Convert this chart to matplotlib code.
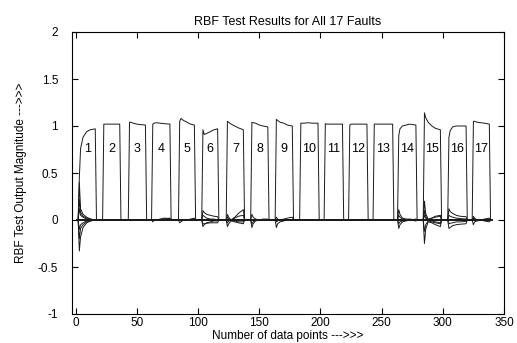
import numpy as np
import matplotlib
matplotlib.use("Agg")
import matplotlib.pyplot as plt

plt.rcParams['font.family'] = ['Liberation Sans', 'DejaVu Sans']

# Fault numbers and where each fault's output pulse sits on the x axis
fault_ids = list(range(1, 18))
pulse_start = [3, 23, 44, 63, 85, 104, 124, 144, 164, 184, 204, 224, 244, 264, 285, 305, 325]
pulse_end = [16, 36, 57, 77, 97, 116, 137, 157, 177, 198, 218, 238, 259, 278, 298, 319, 338]

# Pulse top read at: start, start+1, start+3, start+6, start+9, end
top_offsets = [0, 1, 3, 6, 9]
pulse_tops = [
    [0.45, 0.76, 0.88, 0.94, 0.96, 0.97],
    [1.02, 1.02, 1.02, 1.02, 1.02, 1.02],
    [1.04, 1.04, 1.03, 1.02, 1.015, 1.01],
    [1.02, 1.03, 1.035, 1.03, 1.025, 1.02],
    [1.05, 1.08, 1.06, 1.04, 1.02, 1.01],
    [0.96, 0.91, 0.92, 0.94, 0.96, 0.97],
    [1.05, 1.04, 1.02, 1.0, 0.98, 0.96],
    [1.04, 1.035, 1.03, 1.01, 1.0, 0.99],
    [1.07, 1.06, 1.04, 1.03, 1.01, 1.0],
    [1.03, 1.03, 1.03, 1.035, 1.03, 1.03],
    [1.025, 1.02, 1.02, 1.02, 1.02, 1.02],
    [1.01, 1.02, 1.02, 1.02, 1.02, 1.02],
    [1.02, 1.02, 1.02, 1.02, 1.02, 1.02],
    [0.90, 0.97, 1.0, 1.01, 1.02, 1.01],
    [1.14, 1.09, 1.04, 1.0, 0.975, 0.96],
    [0.88, 0.95, 0.99, 1.0, 1.0, 1.0],
    [1.05, 1.05, 1.04, 1.035, 1.03, 1.02],
]

# Responses of the other outputs during each fault (same read points)
fault_transients = {
    1: [[0.40, 0.12, 0.06, 0.03, 0.01, 0.0],
        [0.22, 0.08, 0.04, 0.02, 0.01, 0.0],
        [0.12, 0.05, 0.03, 0.01, 0.0, 0.0],
        [-0.10, -0.05, -0.03, -0.01, 0.0, 0.0],
        [-0.20, -0.09, -0.05, -0.02, -0.01, 0.0],
        [-0.33, -0.18, -0.08, -0.03, -0.01, 0.0]],
    4: [[-0.02, 0.0, 0.0, 0.01, 0.02, 0.015],
        [0.0, 0.0, 0.0, 0.0, 0.01, 0.02]],
    5: [[-0.03, -0.02, 0.0, 0.0, 0.01, 0.02]],
    6: [[0.10, 0.08, 0.06, 0.05, 0.04, 0.035],
        [-0.04, -0.04, -0.035, -0.03, -0.03, -0.03],
        [0.05, 0.04, 0.02, 0.01, 0.01, 0.0],
        [-0.07, -0.05, -0.03, -0.02, -0.01, -0.01]],
    7: [[0.06, 0.03, 0.0, 0.03, 0.07, 0.11],
        [-0.07, -0.04, -0.01, -0.02, -0.03, -0.04],
        [-0.03, -0.01, 0.0, 0.02, 0.04, 0.05],
        [0.03, 0.01, 0.0, -0.01, -0.02, -0.02]],
    8: [[0.06, 0.03, 0.01, 0.0, 0.0, 0.0],
        [-0.08, -0.04, -0.01, 0.0, 0.0, 0.0],
        [-0.04, -0.02, 0.0, 0.0, 0.01, 0.01]],
    9: [[-0.08, -0.04, -0.02, -0.01, 0.0, 0.0],
        [0.03, 0.01, 0.0, 0.01, 0.02, 0.03],
        [-0.02, -0.01, 0.0, 0.0, 0.0, 0.0]],
    14: [[0.11, 0.06, 0.02, 0.01, 0.01, 0.0],
         [-0.09, -0.05, -0.02, -0.01, 0.0, 0.0],
         [0.05, 0.03, 0.01, 0.0, 0.0, 0.01],
         [-0.04, -0.02, -0.01, 0.0, 0.0, -0.01]],
    15: [[0.20, 0.07, 0.01, 0.02, 0.04, 0.05],
         [-0.25, -0.10, -0.02, -0.03, -0.05, -0.07],
         [0.10, 0.04, 0.0, 0.02, 0.03, 0.04],
         [-0.12, -0.05, -0.01, -0.02, -0.03, -0.04],
         [0.05, 0.02, 0.0, -0.01, -0.02, -0.03]],
    16: [[0.12, 0.09, 0.07, 0.05, 0.04, 0.035],
         [-0.09, -0.08, -0.06, -0.05, -0.045, -0.04],
         [0.05, 0.04, 0.03, 0.02, 0.015, 0.01],
         [-0.04, -0.035, -0.03, -0.02, -0.02, -0.015]],
    17: [[0.04, 0.02, 0.0, 0.0, 0.01, 0.02],
         [-0.05, -0.02, -0.01, 0.0, -0.01, -0.02],
         [0.02, 0.01, 0.0, 0.0, 0.0, 0.01]],
}

n_points = 340
label_y = 0.76

fig = plt.figure(figsize=(5.17, 3.43), dpi=100)
ax = fig.add_axes([72 / 517, 1 - 314 / 343, 432 / 517, 282 / 343])


def segment_points(i, values):
    s, e = pulse_start[i], pulse_end[i]
    xs = [s - 1] + [s + o for o in top_offsets] + [e, e + 1]
    ys = [0.0] + list(values) + [0.0]
    return xs, ys


# one output line per fault: its own pulse plus its response to the others
for k in range(len(fault_ids)):
    xs, ys = [1], [0.0]
    for i, f in enumerate(fault_ids):
        if i == k:
            sx, sy = segment_points(i, pulse_tops[i])
        else:
            tr = fault_transients.get(f, [])
            j = (k - i) % len(fault_ids) - 1
            if j < 0 or j >= len(tr):
                continue
            sx, sy = segment_points(i, tr[j])
        xs += sx
        ys += sy
    xs.append(n_points)
    ys.append(0.0)
    ax.plot(xs, ys, color='#1a1a1a', linewidth=0.7)

for i, f in enumerate(fault_ids):
    ax.text((pulse_start[i] + pulse_end[i]) / 2, label_y, str(f),
            ha='center', va='center', fontsize=9)

ax.set_xlim(-3, 350)
ax.set_ylim(-1, 2)
ax.set_xticks(np.arange(0, 351, 50))
ax.set_yticks(np.arange(-1, 2.01, 0.5))
ax.set_yticklabels(['-1', '-0.5', '0', '0.5', '1', '1.5', '2'])
ax.tick_params(direction='in', top=True, right=True, length=4, width=0.8,
               labelsize=8.5)
ax.tick_params(axis='y', pad=10)
ax.tick_params(axis='x', pad=2)
for sp in ax.spines.values():
    sp.set_linewidth(0.8)

ax.set_title('RBF Test Results for All 17 Faults', fontsize=9, pad=5)
ax.set_xlabel('Number of data points --->>>', fontsize=8.5)
ax.set_ylabel('RBF Test Output Magnitude --->>>', fontsize=8.5)
ax.xaxis.set_label_coords(0.5, -0.058)
ax.yaxis.set_label_coords(-0.104, 0.5)

fig.savefig('out.png', dpi=100)
